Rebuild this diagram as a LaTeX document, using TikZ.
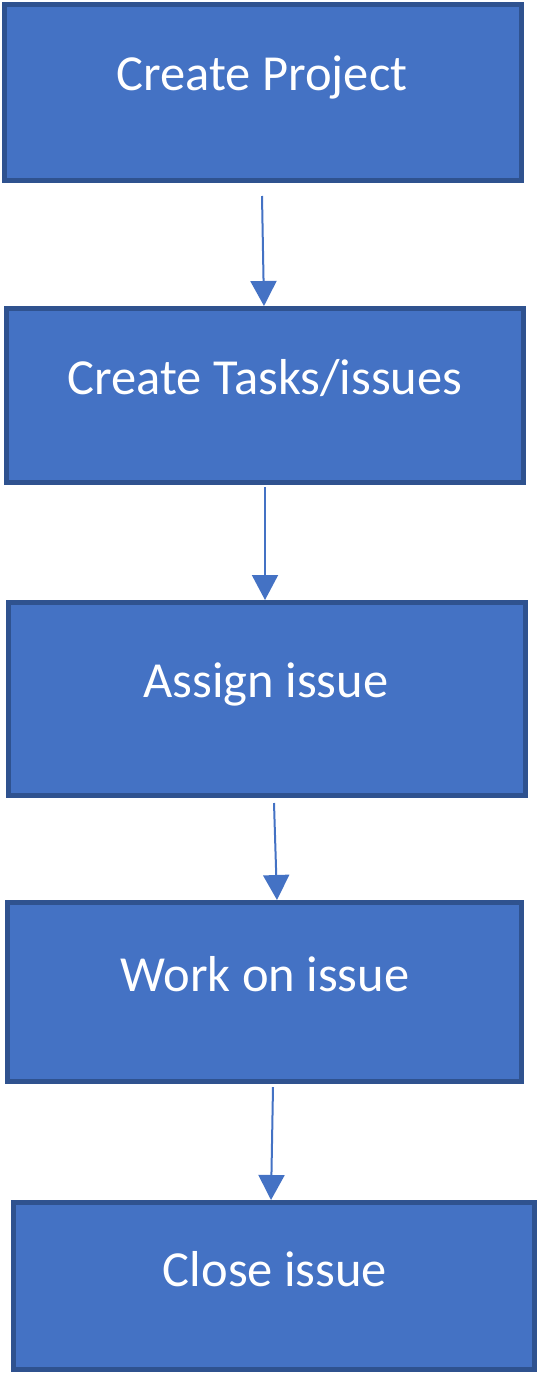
\documentclass[tikz,border=0pt]{standalone}
\usepackage{fontspec}
\setmainfont{Carlito}
\usetikzlibrary{arrows.meta}
\definecolor{boxfill}{HTML}{4472C4}
\definecolor{boxline}{HTML}{2F528F}
\tikzset{
  stepbox/.style={draw=boxline, fill=boxfill, line width=5pt},
  steptext/.style={text=white, font=\fontsize{50.5}{60}\selectfont, inner sep=0pt, anchor=center},
  flow/.style={draw=boxfill, line width=2pt, -{Triangle[width=26pt,length=25pt]}, shorten <=0pt, shorten >=0pt}
}
\begin{document}
\begin{tikzpicture}[x=1pt,y=-1pt]
\useasboundingbox (0,0) rectangle (539,1375);
% boxes (path inset by half border)
\path[stepbox] (4.5,4.5) rectangle (521.5,180.5);
\path[stepbox] (6.5,308.5) rectangle (523.5,482.5);
\path[stepbox] (8.5,602.5) rectangle (525.5,795.5);
\path[stepbox] (7.5,902.5) rectangle (521.5,1081.5);
\path[stepbox] (13.5,1202.5) rectangle (534.5,1369.5);
% named anchors
\coordinate (b1s) at (262,196);
\coordinate (b2n) at (264,306);
\coordinate (b2s) at (265,487);
\coordinate (b3n) at (265,600);
\coordinate (b3s) at (274,803);
\coordinate (b4n) at (277,900);
\coordinate (b4s) at (273,1087);
\coordinate (b5n) at (271,1200);
% texts
\node[steptext] (t1) at (262,79) {\strut Create Project};
\node[steptext] (t2) at (265,382) {\strut Create Tasks/issues};
\node[steptext] (t3) at (266,685) {\strut Assign issue};
\node[steptext] (t4) at (265,979) {\strut Work on issue};
\node[steptext] (t5) at (275,1274) {\strut Close issue};
% connectors
\draw[flow] (b1s) -- (b2n);
\draw[flow] (b2s) -- (b3n);
\draw[flow] (b3s) -- (b4n);
\draw[flow] (b4s) -- (b5n);
\end{tikzpicture}
\end{document}
